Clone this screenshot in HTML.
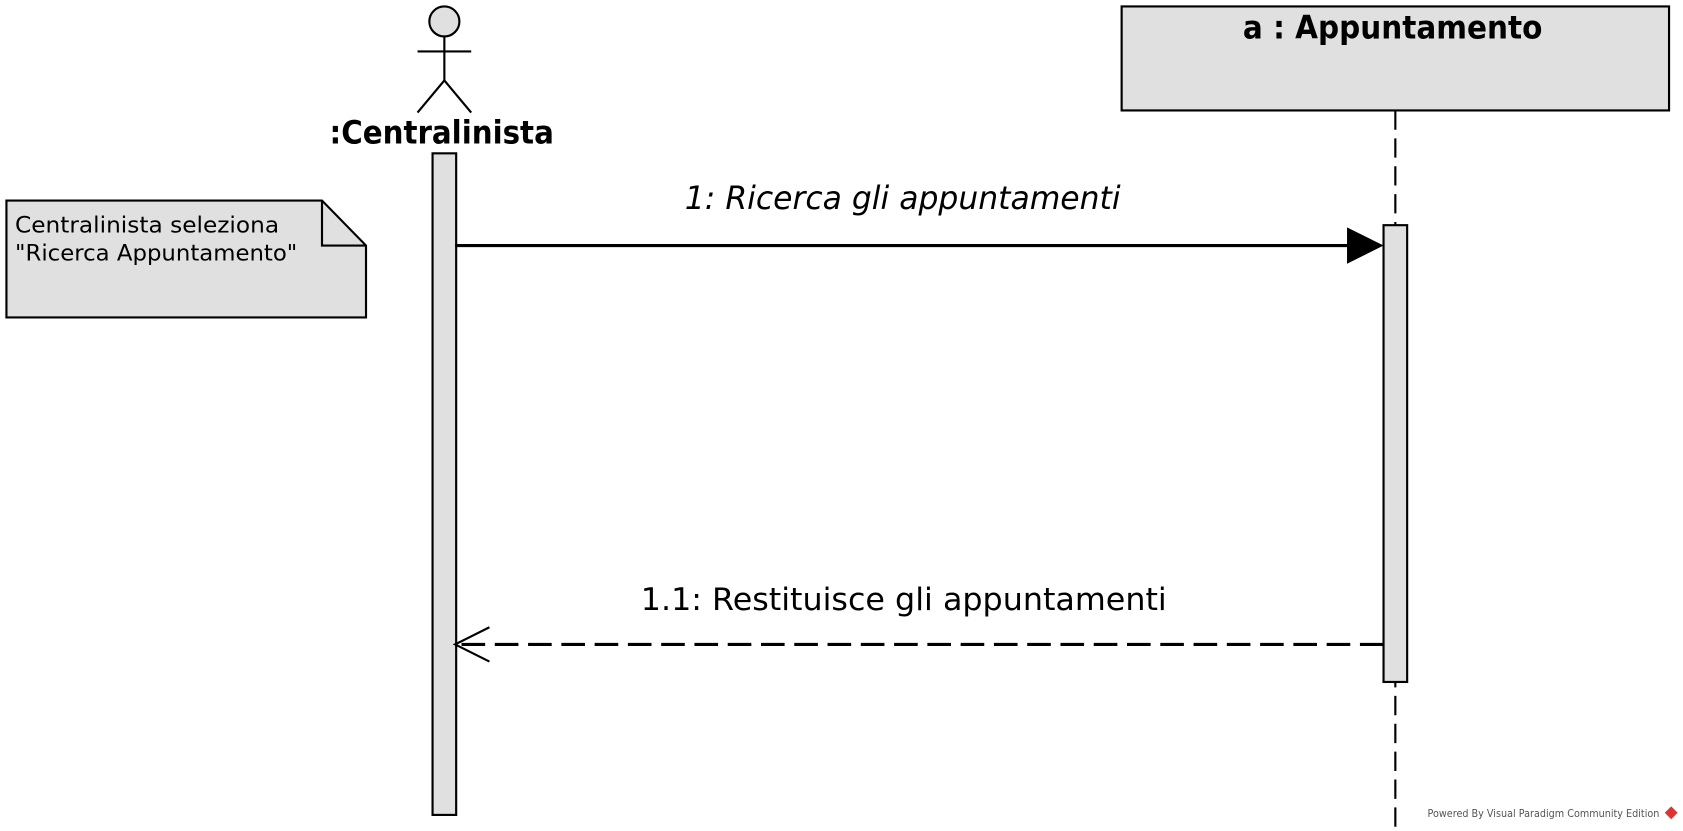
<!DOCTYPE html>
<html><head><meta charset="utf-8"><style>
html,body{margin:0;padding:0;background:#fff;}
svg{display:block;}
text{font-family:"DejaVu Sans","Liberation Sans",sans-serif;fill:#000;}
</style></head><body>
<svg width="1683" height="831" viewBox="0 0 1568 775" preserveAspectRatio="none" xmlns="http://www.w3.org/2000/svg">
<rect width="1568" height="775" fill="#fff"/>
<circle cx="414" cy="20" r="14" fill="#e0e0e0" stroke="#000" stroke-width="2"/>
<line x1="414" y1="34" x2="414" y2="75" stroke="#000" stroke-width="2"/>
<line x1="389" y1="48" x2="439" y2="48" stroke="#000" stroke-width="2"/>
<polyline points="389,105 414,75 439,105" fill="none" stroke="#000" stroke-width="2"/>
<text x="307" y="134" font-size="30" font-weight="bold" textLength="209" lengthAdjust="spacingAndGlyphs">:Centralinista</text>
<rect x="403" y="143" width="22" height="617" fill="#e0e0e0" stroke="#000" stroke-width="2"/>
<rect x="1045" y="6" width="510" height="97" fill="#e0e0e0" stroke="#000" stroke-width="2"/>
<text x="1158" y="36" font-size="30" font-weight="bold" textLength="279" lengthAdjust="spacingAndGlyphs">a : Appuntamento</text>
<line x1="1300" y1="103" x2="1300" y2="775" stroke="#000" stroke-width="2" stroke-dasharray="18,8"/>
<rect x="1289" y="210" width="22" height="426" fill="#e0e0e0" stroke="#000" stroke-width="2"/>
<polygon points="6,187 300,187 341,229 341,296 6,296" fill="#e0e0e0" stroke="#000" stroke-width="2"/>
<polyline points="300,187 300,229 341,229" fill="none" stroke="#000" stroke-width="2"/>
<text x="14" y="217" font-size="21" textLength="246" lengthAdjust="spacingAndGlyphs">Centralinista seleziona</text>
<text x="14" y="243" font-size="21" textLength="263" lengthAdjust="spacingAndGlyphs">"Ricerca Appuntamento"</text>
<line x1="424" y1="229" x2="1258" y2="229" stroke="#000" stroke-width="3"/>
<polygon points="1255,212 1289,229 1255,246" fill="#000"/>
<text x="638" y="195" font-size="30" font-style="italic" textLength="406" lengthAdjust="spacingAndGlyphs">1: Ricerca gli appuntamenti</text>
<line x1="1289" y1="601" x2="426" y2="601" stroke="#000" stroke-width="3" stroke-dasharray="22,9"/>
<polyline points="456,585 424,601 456,617" fill="none" stroke="#000" stroke-width="2"/>
<text x="597" y="569" font-size="29" textLength="490" lengthAdjust="spacingAndGlyphs">1.1: Restituisce gli appuntamenti</text>
<text x="1330" y="762" font-size="10" style="fill:#555" textLength="216" lengthAdjust="spacingAndGlyphs">Powered By Visual Paradigm Community Edition</text>
<polygon points="1557,752 1563,758 1557,764 1551,758" fill="#d33"/>
</svg>
</body></html>
